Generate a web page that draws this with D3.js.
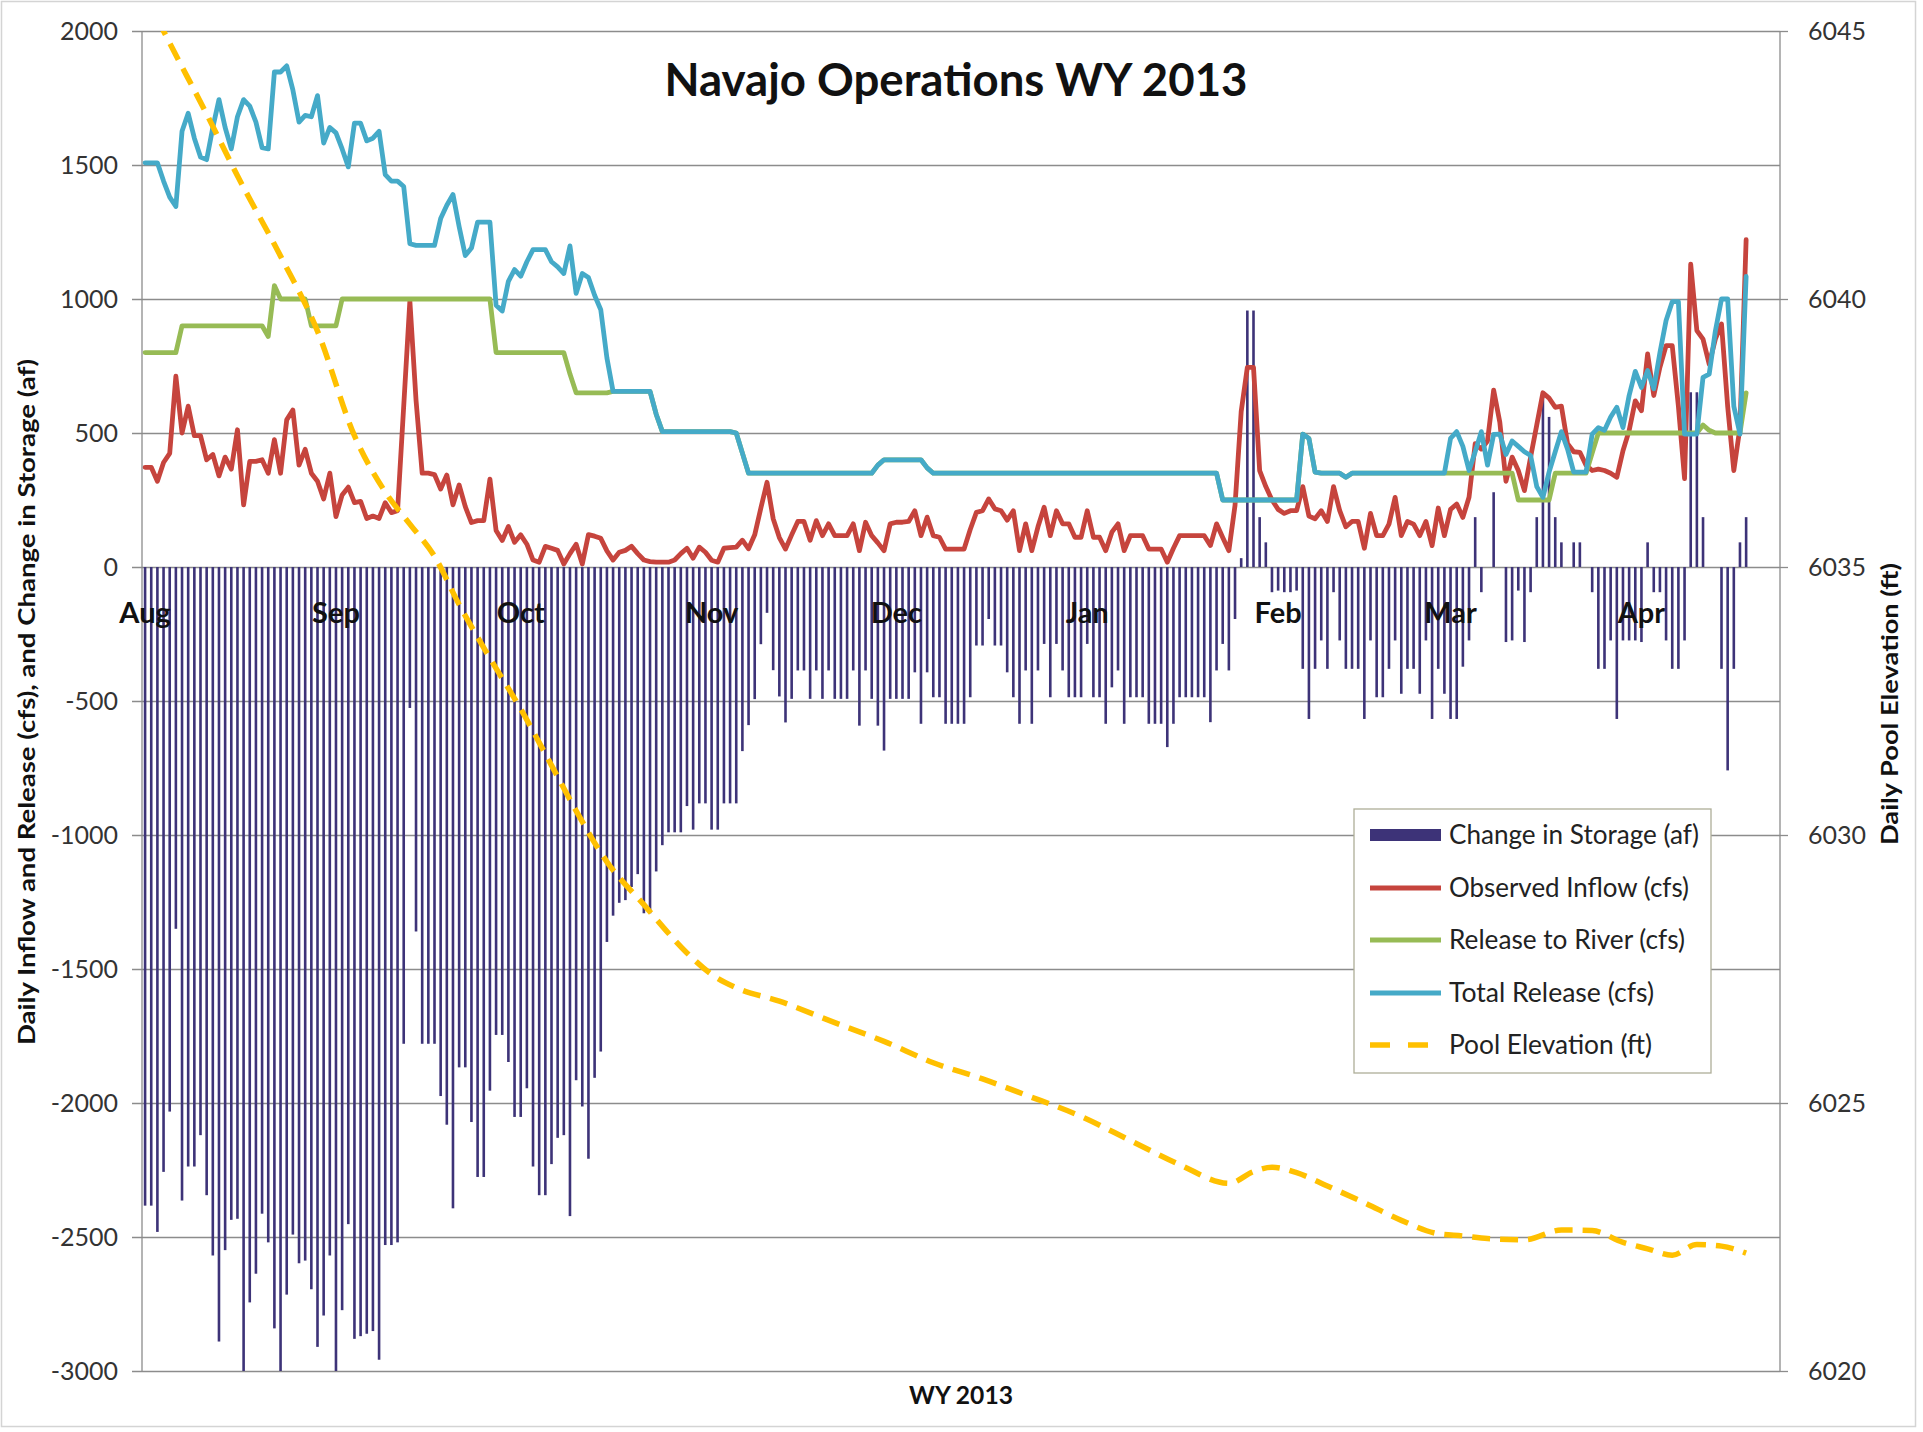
<!DOCTYPE html>
<html><head><meta charset="utf-8">
<script src="https://cdn.jsdelivr.net/npm/d3@7"></script>
<style>
html,body{margin:0;padding:0;background:#fff;}
svg{display:block;font-family:Lato,"Noto Sans",sans-serif;}
</style>
</head><body>
<svg id="chart" width="1923" height="1432"></svg>
<script>
// ---------- DATA (daily, starting 2012-08-01) ----------
const startDate = "2012-08-01";
const monthLabels = ["Aug","Sep","Oct","Nov","Dec","Jan","Feb","Mar","Apr"];
const monthStarts = ["2012-08-01","2012-09-01","2012-10-01","2012-11-01","2012-12-01","2013-01-01","2013-02-01","2013-03-01","2013-04-01"];
const leftTicks = [-3000,-2500,-2000,-1500,-1000,-500,0,500,1000,1500,2000];
const rightTicks = [6020,6025,6030,6035,6040,6045];

const storageChange = [
-2383,-2383,-2481,-2257,-2032,-1350,-2364,-2237,-2237,-2120,
-2344,-2569,-2890,-2549,-2436,-2432,-3000,-2744,-2637,-2413,
-2520,-2841,-3000,-2715,-2491,-2598,-2588,-2695,-2910,-2793,
-2569,-3000,-2773,-2452,-2880,-2870,-2861,-2851,-2958,-2530,
-2530,-2520,-1779,-526,-1360,-1779,-1779,-1779,-1974,-2081,
-2393,-1867,-1867,-2071,-2276,-2276,-1954,-1746,-1746,-1847,
-2052,-2052,-1945,-2237,-2344,-2344,-2228,-2130,-2120,-2422,
-1915,-2013,-2208,-1906,-1808,-1399,-1301,-1253,-1243,-1194,
-1146,-1292,-1292,-1136,-1038,-990,-990,-990,-892,-980,
-882,-882,-980,-980,-882,-882,-882,-687,-590,-493,
-288,-171,-385,-483,-580,-492,-386,-386,-492,-386,
-492,-386,-492,-492,-492,-386,-592,-386,-492,-592,
-685,-492,-492,-492,-492,-393,-585,-393,-486,-486,
-585,-585,-585,-585,-486,-293,-293,-194,-293,-293,
-393,-486,-585,-386,-585,-386,-287,-486,-287,-386,
-486,-486,-486,-287,-486,-486,-585,-449,-386,-585,
-486,-486,-486,-585,-585,-585,-672,-585,-486,-486,
-486,-486,-486,-579,-386,-287,-386,-194,33,957,
957,186,92,-94,-88,-94,-94,-88,-380,-567,
-380,-274,-380,-94,-274,-380,-380,-380,-567,-274,
-486,-486,-380,-274,-473,-380,-380,-473,-274,-567,
-380,-473,-567,-567,-372,-274,186,-94,0,279,
0,-280,-274,-88,-280,-94,186,652,560,186,
92,0,92,92,0,-94,-380,-380,-274,-567,
-274,-274,-274,-280,92,-94,-94,-274,-380,-380,
-274,652,652,186,0,0,-380,-759,-380,92,
186];

const observedInflow = [
372,372,320,390,424,712,500,600,490,490,
400,420,340,410,365,512,232,394,394,400,
350,475,350,549,586,380,439,350,320,254,
350,188,269,298,240,245,181,190,181,240,
203,210,600,992,623,350,350,345,291,343,
232,306,225,166,173,173,328,136,99,151,
92,120,85,26,18,77,70,62,11,50,
85,11,121,115,107,60,26,55,62,77,
50,26,20,18,18,18,26,50,70,33,
74,55,25,18,70,72,74,100,68,120,
220,316,180,110,67,120,170,170,100,173,
117,161,117,117,117,161,61,167,117,90,
61,161,167,167,170,210,117,186,117,111,
67,67,67,67,140,204,210,254,217,210,
175,210,61,161,61,150,223,117,210,161,
161,111,111,210,111,111,61,130,161,61,
117,117,117,67,67,67,18,70,117,117,
117,117,117,80,161,110,61,230,580,745,
745,360,300,250,215,200,210,210,300,190,
180,210,170,300,210,150,170,170,70,200,
117,117,160,260,117,170,160,117,170,80,
220,117,215,235,185,260,460,440,470,660,
540,320,410,360,285,410,530,650,630,596,
600,460,430,428,380,360,365,360,350,335,
434,509,620,583,795,640,745,826,826,600,
330,1130,882,850,757,850,907,600,360,521,
1221];

const releaseToRiver = [
800,800,800,800,800,800,900,900,900,900,
900,900,900,900,900,900,900,900,900,900,
860,1050,1000,1000,1000,1000,1000,900,900,900,
900,900,1000,1000,1000,1000,1000,1000,1000,1000,
1000,1000,1000,1000,1000,1000,1000,1000,1000,1000,
1000,1000,1000,1000,1000,1000,1000,800,800,800,
800,800,800,800,800,800,800,800,800,720,
650,650,650,650,650,650,655,655,655,655,
655,655,655,570,505,505,505,505,505,505,
505,505,505,505,505,505,500,425,350,350,
350,350,350,350,350,350,350,350,350,350,
350,350,350,350,350,350,350,350,350,380,
400,400,400,400,400,400,400,370,350,350,
350,350,350,350,350,350,350,350,350,350,
350,350,350,350,350,350,350,350,350,350,
350,350,350,350,350,350,350,350,350,350,
350,350,350,350,350,350,350,350,350,350,
350,350,350,350,350,250,250,250,250,250,
250,250,250,250,250,250,250,250,496,480,
354,350,350,350,350,335,350,350,350,350,
350,350,350,350,350,350,350,350,350,350,
350,350,350,350,350,350,350,350,350,350,
350,350,350,250,250,250,250,250,250,350,
350,350,350,350,350,425,500,500,500,500,
500,500,500,500,500,500,500,500,500,500,
500,500,500,530,510,500,500,500,500,500,
650];

const totalRelease = [
1508,1508,1508,1440,1380,1345,1626,1693,1600,1530,
1520,1640,1744,1640,1560,1680,1744,1720,1660,1565,
1560,1847,1847,1870,1780,1660,1685,1680,1759,1582,
1640,1620,1560,1493,1656,1656,1590,1600,1626,1464,
1440,1440,1420,1206,1200,1200,1200,1200,1300,1350,
1390,1270,1162,1190,1287,1287,1287,977,955,1066,
1110,1085,1139,1184,1184,1184,1139,1120,1095,1198,
1021,1095,1080,1014,960,780,655,655,655,655,
655,655,655,570,505,505,505,505,505,505,
505,505,505,505,505,505,500,425,350,350,
350,350,350,350,350,350,350,350,350,350,
350,350,350,350,350,350,350,350,350,380,
400,400,400,400,400,400,400,370,350,350,
350,350,350,350,350,350,350,350,350,350,
350,350,350,350,350,350,350,350,350,350,
350,350,350,350,350,350,350,350,350,350,
350,350,350,350,350,350,350,350,350,350,
350,350,350,350,350,250,250,250,250,250,
250,250,250,250,250,250,250,250,496,480,
354,350,350,350,350,335,350,350,350,350,
350,350,350,350,350,350,350,350,350,350,
350,350,480,505,450,360,430,505,380,495,
496,420,470,450,430,416,300,260,354,430,
505,440,354,354,354,496,520,510,560,596,
520,640,730,670,733,665,800,920,990,990,
496,496,496,708,720,880,1000,1000,600,496,
1084];

const poolDates = ["2012-08-01","2012-08-04","2012-08-11","2012-08-16","2012-08-23","2012-08-29",
"2012-09-04","2012-09-09","2012-09-13","2012-09-17","2012-09-21","2012-09-26",
"2012-10-01","2012-10-06","2012-10-10","2012-10-15","2012-10-21","2012-10-28",
"2012-11-01","2012-11-05","2012-11-12","2012-11-21","2012-11-29",
"2012-12-07","2012-12-15","2012-12-22","2012-12-31",
"2013-01-08","2013-01-16","2013-01-24","2013-01-28","2013-01-31",
"2013-02-04","2013-02-09","2013-02-15","2013-02-21","2013-02-27",
"2013-03-03","2013-03-07","2013-03-13","2013-03-19","2013-03-24","2013-03-29",
"2013-04-02","2013-04-06","2013-04-10","2013-04-14","2013-04-18"];
const poolElevation = [6045.7,6045.0,6043.45,6042.3,6040.8,6039.4,
6037.45,6036.4,6035.8,6035.2,6034.3,6033.3,
6032.35,6031.3,6030.45,6029.5,6028.7,6027.8,
6027.4,6027.15,6026.9,6026.5,6026.15,
6025.75,6025.45,6025.15,6024.75,
6024.3,6023.85,6023.5,6023.72,6023.8,
6023.7,6023.45,6023.14,6022.81,6022.56,
6022.52,6022.47,6022.45,6022.63,6022.62,6022.4,
6022.28,6022.16,6022.36,6022.33,6022.2];

const legendLabels = ["Change in Storage (af)","Observed Inflow (cfs)","Release to River (cfs)","Total Release (cfs)","Pool Elevation (ft)"];
const legendWidths = [250,240,236,205,203];

// ---------- LAYOUT ----------
const C = {bar:"#3D3378", red:"#C6443D", green:"#97BB55", blue:"#45AAC8", gold:"#FFC000", grid:"#8c8c8c", text:"#333333"};
const P = {l:142, r:1780, t:31, b:1371};
const svg = d3.select("#chart");
const parse = d3.utcParse("%Y-%m-%d");
const t0 = parse(startDate);
const dates = storageChange.map((_,i)=>d3.utcDay.offset(t0,i));

const x = d3.scaleUtc()
  .domain([d3.isoParse("2012-07-31T12:00:00Z"), d3.isoParse("2013-04-23T12:00:00Z")])
  .range([P.l, P.r]);
const y = d3.scaleLinear().domain([-3000,2000]).range([P.b,P.t]);
const y2 = d3.scaleLinear().domain([6020,6045]).range([P.b,P.t]);

// outer border
svg.append("rect").attr("x",1.5).attr("y",1.5).attr("width",1914).attr("height",1425)
  .attr("fill","#fff").attr("stroke","#d4d4d4").attr("stroke-width",1.5);

// gridlines + left axis
const plain = d => String(d);
const gL = svg.append("g").attr("transform",`translate(${P.l},0)`)
  .call(d3.axisLeft(y).tickValues(leftTicks).tickSize(-(P.r-P.l)).tickSizeOuter(0).tickPadding(0).tickFormat(plain));
gL.select(".domain").remove();
gL.selectAll(".tick line").attr("stroke",C.grid).attr("stroke-width",1.3).attr("x1",-10);
gL.selectAll(".tick text").attr("x",-24).attr("fill",C.text).attr("font-size",25).attr("font-family","Lato");

const gR = svg.append("g").attr("transform",`translate(${P.r},0)`)
  .call(d3.axisRight(y2).tickValues(rightTicks).tickSize(8).tickPadding(0).tickFormat(plain));
gR.select(".domain").remove();
gR.selectAll(".tick line").attr("stroke",C.grid).attr("stroke-width",1.3);
gR.selectAll(".tick text").attr("x",28).attr("fill",C.text).attr("font-size",25).attr("font-family","Lato");

// axis lines
svg.append("line").attr("x1",P.l).attr("x2",P.l).attr("y1",P.t).attr("y2",P.b).attr("stroke",C.grid).attr("stroke-width",1.3);
svg.append("line").attr("x1",P.r).attr("x2",P.r).attr("y1",P.t).attr("y2",P.b).attr("stroke",C.grid).attr("stroke-width",1.3);

// bars
const bw = 2.6;
svg.append("g").selectAll("rect").data(storageChange).join("rect")
  .attr("x",(d,i)=>x(dates[i])-bw/2)
  .attr("width",bw)
  .attr("y",d=>Math.min(y(d),y(0)))
  .attr("height",d=>Math.abs(y(d)-y(0)))
  .attr("fill",C.bar);

// month labels
svg.append("g").selectAll("text").data(monthLabels).join("text")
  .attr("x",(d,i)=>x(parse(monthStarts[i])))
  .attr("y",623)
  .attr("text-anchor","middle")
  .attr("font-weight","bold").attr("font-size",29).attr("fill","#111")
  .text(d=>d);

// lines
svg.append("clipPath").attr("id","plotclip").append("rect")
  .attr("x",P.l).attr("y",P.t).attr("width",P.r-P.l).attr("height",P.b-P.t);
const mkLine = (arr, sc) => d3.line().x((d,i)=>x(dates[i])).y(d=>sc(d))(arr);
const lines = svg.append("g").attr("clip-path","url(#plotclip)").attr("fill","none")
  .attr("stroke-linejoin","round").attr("stroke-linecap","round");
lines.append("path").attr("d",mkLine(observedInflow,y)).attr("stroke",C.red).attr("stroke-width",4.8);
lines.append("path").attr("d",mkLine(releaseToRiver,y)).attr("stroke",C.green).attr("stroke-width",4.8);
lines.append("path").attr("d",mkLine(totalRelease,y)).attr("stroke",C.blue).attr("stroke-width",4.8);
const poolLine = d3.line().x((d,i)=>x(parse(poolDates[i]))).y(d=>y2(d)).curve(d3.curveMonotoneX);
lines.append("path").attr("d",poolLine(poolElevation)).attr("stroke",C.gold).attr("stroke-width",5.5)
  .attr("stroke-dasharray","18,10").attr("stroke-linecap","butt");

// title
svg.append("text").attr("x",956).attr("y",96).attr("text-anchor","middle")
  .attr("font-weight","bold").attr("font-size",45).attr("fill","#111")
  .attr("textLength",583).attr("lengthAdjust","spacingAndGlyphs")
  .text("Navajo Operations WY 2013");

// axis titles
svg.append("text").attr("transform","translate(35,702) rotate(-90)").attr("text-anchor","middle")
  .attr("font-weight","bold").attr("font-size",23).attr("fill","#111")
  .attr("textLength",686).attr("lengthAdjust","spacingAndGlyphs")
  .text("Daily Inflow and Release (cfs), and Change in Storage (af)");
svg.append("text").attr("transform","translate(1898,704) rotate(-90)").attr("text-anchor","middle")
  .attr("font-weight","bold").attr("font-size",23).attr("fill","#111")
  .attr("textLength",282).attr("lengthAdjust","spacingAndGlyphs")
  .text("Daily Pool Elevation (ft)");
svg.append("text").attr("x",961).attr("y",1404).attr("text-anchor","middle")
  .attr("font-weight","bold").attr("font-size",24).attr("fill","#111")
  .attr("textLength",104).attr("lengthAdjust","spacingAndGlyphs")
  .text("WY 2013");

// legend
const lg = svg.append("g");
lg.append("rect").attr("x",1354).attr("y",809).attr("width",357).attr("height",264)
  .attr("fill","#fff").attr("stroke","#aeae98").attr("stroke-width",1.3);
const rowY = [835,888,940,993,1045];
const swatchColors = [C.bar,C.red,C.green,C.blue,C.gold];
legendLabels.forEach((lab,i)=>{
  const yy = rowY[i];
  if(i===0){
    lg.append("rect").attr("x",1370).attr("y",yy-6).attr("width",71).attr("height",12).attr("fill",C.bar);
  } else if(i===4){
    lg.append("line").attr("x1",1370).attr("x2",1429).attr("y1",yy).attr("y2",yy)
      .attr("stroke",C.gold).attr("stroke-width",5.5).attr("stroke-dasharray","20,18");
  } else {
    lg.append("line").attr("x1",1370).attr("x2",1441).attr("y1",yy).attr("y2",yy)
      .attr("stroke",swatchColors[i]).attr("stroke-width",4.8);
  }
  lg.append("text").attr("x",1449).attr("y",yy).attr("dy","0.35em")
    .attr("font-size",26).attr("fill","#222")
    .attr("textLength",legendWidths[i]).attr("lengthAdjust","spacingAndGlyphs")
    .text(lab);
});
</script>
</body></html>
